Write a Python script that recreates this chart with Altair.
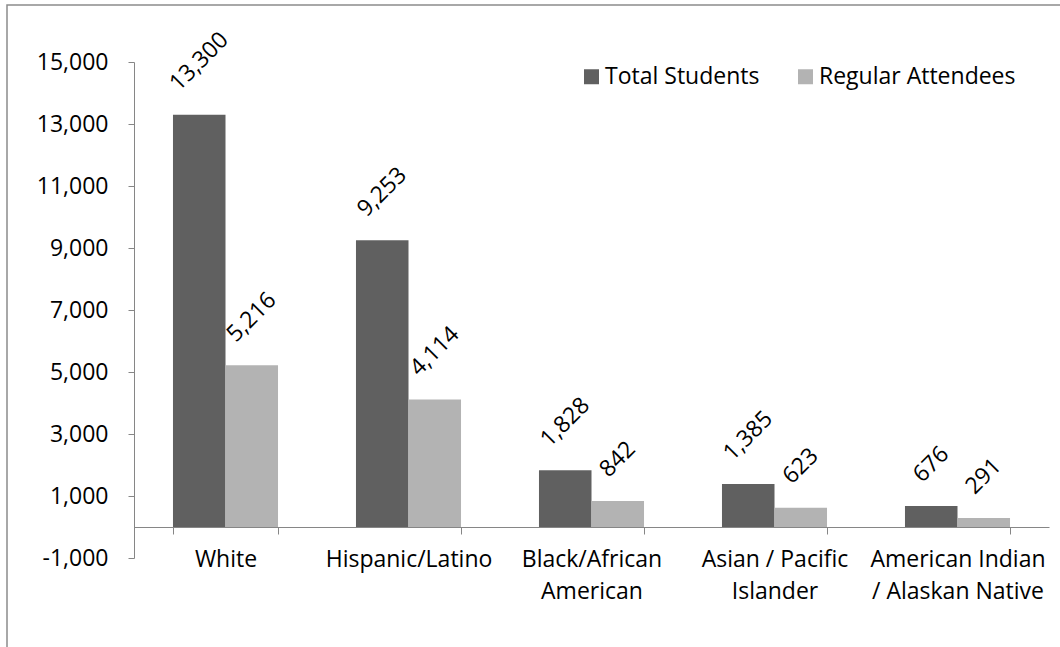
import altair as alt
import pandas as pd

# Students by race/ethnicity: all enrolled vs. regular attendees
categories = [
    "White",
    "Hispanic/Latino",
    "Black/African American",
    "Asian / Pacific Islander",
    "American Indian / Alaskan Native",
]
category_lines = [
    ["White"],
    ["Hispanic/Latino"],
    ["Black/African", "American"],
    ["Asian / Pacific", "Islander"],
    ["American Indian", "/ Alaskan Native"],
]
series = ["Total Students", "Regular Attendees"]
total_students = [13300, 9253, 1828, 1385, 676]
regular_attendees = [5216, 4114, 842, 623, 291]
y_ticks = [-1000, 1000, 3000, 5000, 7000, 9000, 11000, 13000, 15000]
colors = ["#606060", "#b3b3b3"]

FONT = "Open Sans"
FS = 23
AXIS_GRAY = "#868686"

rows = []
for cat, t, r in zip(categories, total_students, regular_attendees):
    for s, v in zip(series, (t, r)):
        label = f"{v:,}"
        rows.append({"category": cat, "series": s, "value": v,
                     "label": label, "chars": len(label)})
df = pd.DataFrame(rows)

# multi-line category labels
label_expr = "".join(
    f"datum.value == '{c}' ? {lines!r} : " for c, lines in zip(categories, category_lines)
) + "datum.value"

# thousands separators with a plain hyphen for negatives
y_label_expr = "(datum.value < 0 ? '-' : '') + format(abs(datum.value), ',.0f')"

W, H = 915, 496

x_enc = alt.X(
    "category:N", sort=categories,
    scale=alt.Scale(paddingInner=0.426, paddingOuter=0.213),
    axis=alt.Axis(title=None, labelAngle=0, offset=-31, tickBand="extent",
                  tickSize=7, tickColor=AXIS_GRAY, domainColor=AXIS_GRAY,
                  labelExpr=label_expr, labelFont=FONT, labelFontSize=FS,
                  labelColor="black", labelPadding=14, labelLineHeight=32,
                  labelBaseline="top", labelLimit=0),
)
xoff_enc = alt.XOffset("series:N", sort=series,
                       scale=alt.Scale(paddingInner=0, paddingOuter=0))
y_enc = alt.Y(
    "value:Q",
    scale=alt.Scale(domain=[-1000, 15000], nice=False, zero=False),
    axis=alt.Axis(title=None, values=y_ticks, labelExpr=y_label_expr, grid=False,
                  tickSize=6, tickColor=AXIS_GRAY, domainColor=AXIS_GRAY,
                  labelFont=FONT, labelFontSize=FS, labelColor="black",
                  labelPadding=20),
)

base = alt.Chart(df)

bars = base.mark_bar().encode(
    x=x_enc,
    xOffset=xoff_enc,
    y=y_enc,
    color=alt.Color(
        "series:N", sort=series,
        scale=alt.Scale(domain=series, range=colors),
        legend=alt.Legend(title=None, orient="none", direction="horizontal",
                          legendX=446, legendY=3, symbolType="square",
                          symbolSize=225, symbolStrokeWidth=0,
                          labelFont=FONT, labelFontSize=FS, labelColor="black",
                          labelOffset=2, labelLimit=0, columnPadding=34,
                          padding=0),
    ),
)

# rotated value labels; offset grows with label length
lift = {3: 41.5, 5: 48, 6: 53}
text_layers = []
for n, c in lift.items():
    d = c / 2 ** 0.5
    text_layers.append(
        base.transform_filter(f"datum.chars == {n}").mark_text(
            angle=315, align="center", baseline="middle", dx=d, dy=-d,
            font=FONT, fontSize=FS, color="black",
        ).encode(x=x_enc, xOffset=xoff_enc, y=y_enc, text="label:N")
    )

frame = alt.Chart(alt.Data(values=[{}])).mark_rect(
    fill=None, stroke="#8c8c8c", strokeWidth=1.5
).encode(
    x=alt.value(-127), x2=alt.value(W + 20),
    y=alt.value(-57), y2=alt.value(H + 120),
)

chart = alt.layer(frame, bars, *text_layers).properties(
    width=W, height=H,
    autosize=alt.AutoSizeParams(type="none"),
    padding={"left": 134, "top": 62, "right": 11, "bottom": 89},
    background="white",
).configure_view(stroke=None)

chart.save("out.html", embed_options={"renderer": "svg", "actions": False})
